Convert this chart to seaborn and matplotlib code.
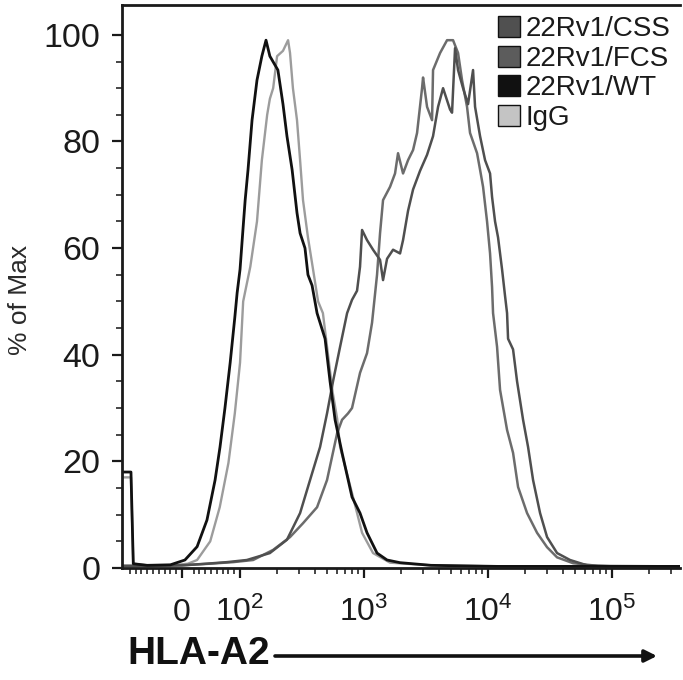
import matplotlib
matplotlib.use("Agg")
import matplotlib.pyplot as plt
from matplotlib.patches import Patch
from matplotlib.ticker import FixedLocator, NullFormatter
import numpy as np
import pandas as pd
import seaborn as sns

# ---------------- data ----------------
labels = ["22Rv1/CSS", "22Rv1/FCS", "22Rv1/WT", "IgG"]

wt_x = [-103.8, -88, -84, -60, -20, 5, 26, 43, 57, 65.5, 74, 83, 91, 95, 100, 106, 110,
        116, 125, 137, 150, 162, 174, 202, 222, 239, 263, 288, 305, 334, 353, 381,
        418, 485, 532, 584, 665, 800, 928, 1057, 1273, 1533, 1951, 3467, 12000, 353000]
wt_y = [18, 18, 0.8, 0.5, 0.6, 1.5, 4, 9, 16.5, 22.7, 30, 38.5, 47, 51.6, 56, 64, 69,
        74.7, 84, 91.5, 96, 99, 96, 93.4, 87, 81, 74.7, 66.6, 62.8, 60, 55, 53,
        47.8, 43, 35, 27.8, 21.6, 13.3, 10.3, 6.6, 2.8, 1.5, 1.0, 0.5, 0.3, 0.3]

igg_x = [-103.8, -88, -84, -60, -20, 10, 26, 48.6, 65, 80, 91, 100, 106, 121, 137, 150,
         165.5, 174, 185, 199, 222, 244, 253, 267, 288, 305, 322, 353, 388, 426, 466,
         503, 558, 607, 641, 815, 964, 1182, 1621, 3467, 12000, 353000]
igg_y = [17, 17, 0.8, 0.5, 0.5, 0.8, 1.5, 5, 11.4, 19.7, 29, 38.5, 50, 56.5, 65, 76.5,
         85, 88, 90, 96, 97, 99, 96.6, 90, 84, 76.5, 69, 62, 56, 50, 47.8,
         41.5, 33, 28, 22.7, 13.3, 6.6, 2.8, 1.0, 0.5, 0.3, 0.3]

css_x = [-103.8, -52, 0, 41.4, 77.6, 113.5, 174, 239, 305, 367, 442, 503, 562, 641, 730,
         800, 878, 928, 964, 1057, 1182, 1346, 1423, 1533, 1714, 1951, 2063, 2264, 2485,
         2829, 3222, 3601, 3953, 4337, 4937, 5124, 5418, 5729, 6286, 6897, 7568, 7857,
         8620, 9458, 10378, 10772, 11388, 12040, 12970, 13713, 14231, 14500, 15909, 17137,
         19157, 21021, 23066, 26270, 29914, 36022, 45840, 62860, 103000, 353000]
css_y = [0.4, 0.4, 0.5, 0.8, 1.1, 1.5, 2.8, 5.3, 10.3, 16.5, 22.7, 29, 35, 41.5, 47.8,
         50.3, 52, 56.5, 63.4, 61.5, 59.7, 57.8, 54, 58, 59.7, 59, 61.5, 67, 71,
         74.5, 77.5, 81, 86.5, 90, 86, 85.4, 97.5, 93.4, 90, 87, 93.4, 86.5,
         81, 76.5, 74, 69.6, 65, 62, 56, 51, 47.8, 43, 41, 35,
         27.8, 22.7, 16.5, 10.3, 5.8, 2.8, 1.5, 0.5, 0.3, 0.3]

fcs_x = [-103.8, -52, 0, 46.6, 88, 127.5, 185, 253, 322, 418, 503, 607, 665, 743, 800,
         928, 1057, 1160, 1273, 1346, 1423, 1621, 1778, 1880, 2063, 2264, 2485, 2676,
         2936, 2991, 3222, 3535, 3601, 4103, 4671, 5220, 5729, 6170, 6769, 7156, 8154,
         8620, 9114, 9815, 10378, 10772, 10973, 11818, 12497, 14231, 15909, 17458, 20633,
         24845, 29914, 36022, 48487, 76600, 353000]
fcs_y = [0.4, 0.4, 0.5, 0.8, 1.1, 1.5, 3.4, 5.8, 8.4, 11.4, 16.5, 25.3, 27.8, 29, 30,
         36.6, 40.3, 46, 55, 62.8, 69, 71.5, 74, 77.8, 74, 76.5, 78.4, 81.6,
         90, 92, 86.5, 84, 93.4, 96.6, 99, 99, 96.6, 91.5, 86.5, 81.6, 77.8,
         74.7, 71.5, 65, 59, 52.7, 47.8, 41.5, 33.4, 25.9, 21.6, 15.2, 10.3,
         6.6, 3.9, 2, 0.9, 0.4, 0.3]

xtick_vals = [0, 100, 1000, 10000, 100000]
xtick_labels = ["0", "$10^{2}$", "$10^{3}$", "$10^{4}$", "$10^{5}$"]
ytick_vals = [0, 20, 40, 60, 80, 100]

colors = {"22Rv1/CSS": "#4f4f4f", "22Rv1/FCS": "#6c6c6c",
          "22Rv1/WT": "#111111", "IgG": "#9c9c9c"}
legend_fill = {"22Rv1/CSS": "#505050", "22Rv1/FCS": "#5c5c5c",
               "22Rv1/WT": "#111111", "IgG": "#c4c4c4"}

frames = []
for name, xs, ys in [("IgG", igg_x, igg_y), ("22Rv1/FCS", fcs_x, fcs_y),
                     ("22Rv1/CSS", css_x, css_y), ("22Rv1/WT", wt_x, wt_y)]:
    frames.append(pd.DataFrame({"HLA-A2": xs, "pct": ys, "sample": name}))
df = pd.concat(frames, ignore_index=True)

# ---------------- style ----------------
sns.set_theme(style="ticks")
plt.rcParams["font.family"] = ["Liberation Sans", "DejaVu Sans"]
plt.rcParams["mathtext.fontset"] = "custom"
plt.rcParams["mathtext.rm"] = "Liberation Sans"
plt.rcParams["mathtext.it"] = "Liberation Sans:italic"
plt.rcParams["mathtext.bf"] = "Liberation Sans:bold"

fig = plt.figure(figsize=(6.83, 6.80), dpi=100)
ax = fig.add_axes([122 / 683, 1 - 568 / 680, (680 - 122) / 683, (568 - 5) / 680])
ax.set_xscale("symlog", linthresh=100, linscale=0.421, base=10)

lw = {"22Rv1/CSS": 1.8, "22Rv1/FCS": 1.8, "22Rv1/WT": 2.0, "IgG": 1.7}
for name in ["IgG", "22Rv1/FCS", "22Rv1/CSS", "22Rv1/WT"]:
    sub = df[df["sample"] == name]
    sns.lineplot(data=sub, x="HLA-A2", y="pct", ax=ax, color=colors[name],
                 linewidth=lw[name], estimator=None, sort=False, legend=False)

ax.set_xlim(-103.8, 353000)
ax.set_ylim(0, 105.6)

# ticks
minor_x = [-90, -80, -70, -60, -50, -40, -30, -20, -10, 20, 30, 40, 50, 60, 70, 80, 90]
for dec in [100, 1000, 10000, 100000]:
    for m in range(2, 10):
        if dec * m <= 353000:
            minor_x.append(dec * m)
ax.xaxis.set_major_locator(FixedLocator(xtick_vals))
ax.set_xticklabels(xtick_labels)
ax.xaxis.set_minor_locator(FixedLocator(minor_x))
ax.xaxis.set_minor_formatter(NullFormatter())
ax.set_yticks(ytick_vals)
ax.yaxis.set_minor_locator(FixedLocator(list(range(5, 105, 5))))

ax.tick_params(axis="x", which="major", direction="out", length=7.5, width=1.6,
               pad=31, labelsize=23, colors="#1a1a1a")
ax.tick_params(axis="x", which="minor", direction="out", length=4, width=1.2)
ax.tick_params(axis="y", which="major", direction="out", length=7.5, width=1.6,
               pad=8, labelsize=24.5, colors="#1a1a1a")
ax.tick_params(axis="y", which="minor", direction="out", length=4, width=1.2)
for lbl in ax.get_xticklabels():
    lbl.set_verticalalignment("baseline")

for s in ["left", "bottom", "top"]:
    ax.spines[s].set_linewidth(2.0)
    ax.spines[s].set_color("#1a1a1a")
ax.spines["right"].set_visible(False)

# axis labels
ax.set_ylabel("% of Max", fontsize=19, color="#2a2a2a")
ax.yaxis.label.set_verticalalignment("center")
ax.yaxis.set_label_coords(-0.182, 0.476)

ax.set_xlabel("HLA-A2", fontsize=28, fontweight="bold", color="#111111")
ax.xaxis.label.set_horizontalalignment("left")
ax.xaxis.label.set_verticalalignment("center")
ax.xaxis.set_label_coords(0.010, -0.153)

ax.annotate("", xy=(657 / 683, 1 - 656 / 680), xytext=(275 / 683, 1 - 656 / 680),
            xycoords="figure fraction", textcoords="figure fraction",
            arrowprops=dict(arrowstyle="-|>", lw=2.6, color="#111111",
                            mutation_scale=18, shrinkA=0, shrinkB=0))

# legend
handles = [Patch(facecolor=legend_fill[n], edgecolor="#111111", linewidth=1.0, label=n)
           for n in labels]
leg = ax.legend(handles=handles, loc="upper left",
                bbox_to_anchor=(498 / 683, 1 - 16 / 680), bbox_transform=fig.transFigure,
                frameon=False, fontsize=20, handlelength=0.8, handleheight=0.8,
                handletextpad=0.2, labelspacing=0.12, borderpad=0, borderaxespad=0)
for t in leg.get_texts():
    t.set_color("#1a1a1a")

fig.savefig("out.png", dpi=100)
